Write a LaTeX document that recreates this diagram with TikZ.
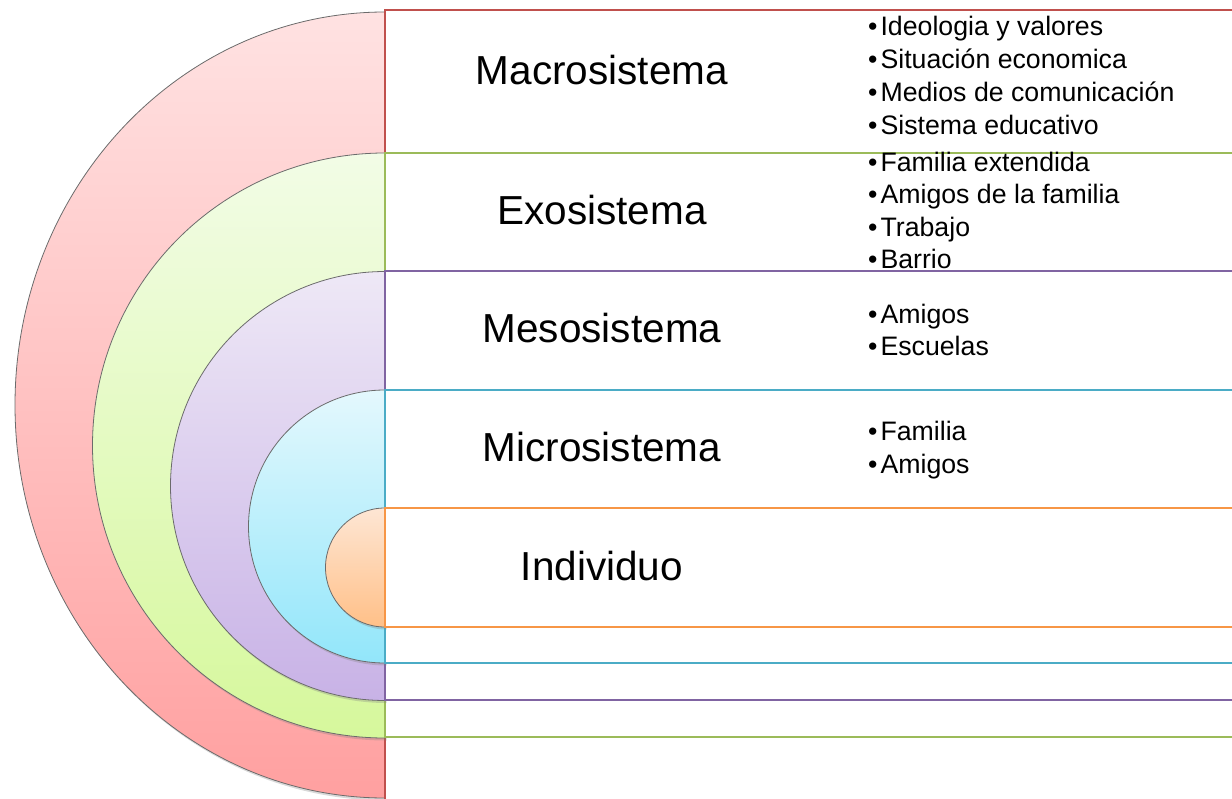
\documentclass[tikz,border=0pt]{standalone}
\usepackage{fontspec}
\setmainfont{Liberation Sans}
\usetikzlibrary{shadows}

\definecolor{macline}{HTML}{C0504D}
\definecolor{mactop}{HTML}{FFE2E2}
\definecolor{macbot}{HTML}{FFA0A0}
\definecolor{exoline}{HTML}{9BBB59}
\definecolor{exotop}{HTML}{F2FCE6}
\definecolor{exobot}{HTML}{D6F89C}
\definecolor{mesoline}{HTML}{8064A2}
\definecolor{mesotop}{HTML}{EEE8F6}
\definecolor{mesobot}{HTML}{C8B2E6}
\definecolor{microline}{HTML}{4BACC6}
\definecolor{microtop}{HTML}{E4F8FD}
\definecolor{microbot}{HTML}{92E6FA}
\definecolor{indline}{HTML}{F79646}
\definecolor{indtop}{HTML}{FEE6D4}
\definecolor{indbot}{HTML}{FFC088}

\tikzset{
  disc/.style={draw=black!58, line width=0.8pt,
    drop shadow={opacity=0.3, shadow xshift=1.5pt, shadow yshift=-2.5pt}},
  band/.style={fill=white, line width=1.8pt},
  title/.style={anchor=base, inner sep=0pt, font=\fontsize{40.5}{48}\selectfont},
  item/.style={anchor=base west, inner sep=0pt, font=\fontsize{26.7}{32}\selectfont}
}

\begin{document}
\begin{tikzpicture}[x=1pt,y=-1pt]
    \useasboundingbox (0,0) rectangle (1232,799);
    \clip (0,0) rectangle (1232,799);
    % macrosistema
    \draw[disc,top color=mactop,bottom color=macbot] (385,12) arc[start angle=90,end angle=270,x radius=370pt,y radius=393pt] -- cycle;
    \draw[band,draw=macline] (385,10) rectangle (1300,840);
    % exosistema
    \draw[disc,top color=exotop,bottom color=exobot] (385,153) arc[start angle=90,end angle=270,radius=292.5pt] -- cycle;
    \draw[band,draw=exoline] (385,153) rectangle (1300,737);
    % mesosistema
    \draw[disc,top color=mesotop,bottom color=mesobot] (385,271.5) arc[start angle=90,end angle=270,radius=214.5pt] -- cycle;
    \draw[band,draw=mesoline] (385,271) rectangle (1300,700);
    % microsistema
    \draw[disc,top color=microtop,bottom color=microbot] (385,390) arc[start angle=90,end angle=270,radius=136.5pt] -- cycle;
    \draw[band,draw=microline] (385,390) rectangle (1300,663);
    % individuo
    \draw[disc,top color=indtop,bottom color=indbot] (385,508) arc[start angle=90,end angle=270,radius=59.5pt] -- cycle;
    \draw[band,draw=indline] (385,508) rectangle (1300,627);

    \node[title] (macro) at (602,85) {Macrosistema};
    \node[title] (exo) at (602,225) {Exosistema};
    \node[title] (meso) at (602,343) {Mesosistema};
    \node[title] (micro) at (602,462) {Microsistema};
    \node[title] (ind) at (602,580) {Individuo};

    \foreach \t [count=\i] in {Ideologia y valores,Situación economica,Medios de comunicación,Sistema educativo}
        \node[item] (macro\i) at (868,{36+32.7*(\i-1)}) {•\hspace{3pt}\t};
    \foreach \t [count=\i] in {Familia extendida,Amigos de la familia,Trabajo,Barrio}
        \node[item] (exo\i) at (868,{171.5+32.3*(\i-1)}) {•\hspace{3pt}\t};
    \foreach \t [count=\i] in {Amigos,Escuelas}
        \node[item] (meso\i) at (868,{323.5+32*(\i-1)}) {•\hspace{3pt}\t};
    \foreach \t [count=\i] in {Familia,Amigos}
        \node[item] (micro\i) at (868,{441+32*(\i-1)}) {•\hspace{3pt}\t};
\end{tikzpicture}
\end{document}
